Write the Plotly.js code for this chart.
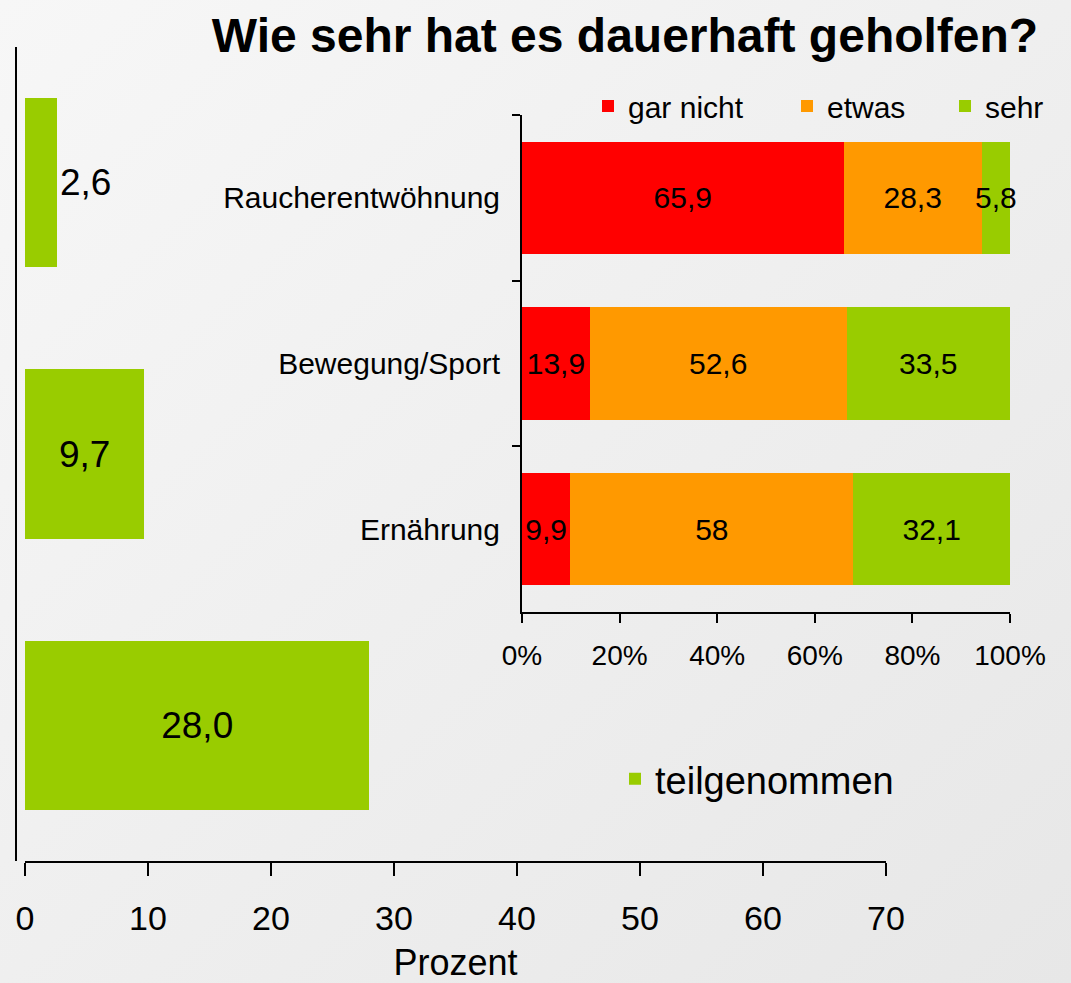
<!DOCTYPE html>
<html>
<head>
<meta charset="utf-8">
<script src="https://cdn.plot.ly/plotly-3.0.1.min.js"></script>
<style>html,body{margin:0;padding:0;background:#efefef;}#chart{width:1071px;height:983px;}</style>
</head>
<body>
<div id="chart"></div>
<script>
// ---- data ----
const categories = ['Raucherentwöhnung', 'Bewegung/Sport', 'Ernährung'];
const teilgenommen = [2.6, 9.7, 28.0];
const garNicht = [65.9, 13.9, 9.9];
const etwas = [28.3, 52.6, 58];
const sehr = [5.8, 33.5, 32.1];
const mainTicks = [0, 10, 20, 30, 40, 50, 60, 70];
const pctTicks = [0, 20, 40, 60, 80, 100];

const FONT = 'Liberation Sans, Arial, sans-serif';
const W = 1071, H = 983, B = 122, PH = H - B;
const px = x => x / W;              // paper x fraction
const py = y => 1 - y / PH;         // paper y fraction (plot area = 0..PH)
const de = v => String(v).replace('.', ',');

const RED = '#FF0000', ORANGE = '#FF9900', GREEN = '#99CC00';

const insetText = {family: FONT, size: 30, color: '#000'};

const traces = [
  {
    type: 'bar', orientation: 'h', name: 'teilgenommen',
    y: categories, x: teilgenommen,
    text: teilgenommen.map(v => v.toFixed(1).replace('.', ',')),
    textposition: ['outside', 'inside', 'inside'],
    insidetextanchor: 'middle', textangle: 0, constraintext: 'none',
    textfont: {family: FONT, size: 37, color: '#000'},
    marker: {color: GREEN}, width: 0.625,
    xaxis: 'x', yaxis: 'y', legend: 'legend2', hoverinfo: 'skip', cliponaxis: false
  },
  {
    type: 'bar', orientation: 'h', name: 'gar nicht',
    y: categories, x: garNicht, text: garNicht.map(de),
    textposition: 'inside', insidetextanchor: 'middle', textangle: 0, constraintext: 'none',
    textfont: insetText, cliponaxis: false,
    marker: {color: RED}, width: 0.68,
    xaxis: 'x2', yaxis: 'y2', legend: 'legend', hoverinfo: 'skip'
  },
  {
    type: 'bar', orientation: 'h', name: 'etwas',
    y: categories, x: etwas, text: etwas.map(de),
    textposition: 'inside', insidetextanchor: 'middle', textangle: 0, constraintext: 'none',
    textfont: insetText, cliponaxis: false,
    marker: {color: ORANGE}, width: 0.68,
    xaxis: 'x2', yaxis: 'y2', legend: 'legend3', hoverinfo: 'skip'
  },
  {
    type: 'bar', orientation: 'h', name: 'sehr',
    y: categories, x: sehr, text: sehr.map(de),
    textposition: 'inside', insidetextanchor: 'middle', textangle: 0, constraintext: 'none',
    textfont: insetText, cliponaxis: false,
    marker: {color: GREEN}, width: 0.68,
    xaxis: 'x2', yaxis: 'y2', legend: 'legend4', hoverinfo: 'skip'
  }
];

const bgSvg = "<svg xmlns='http://www.w3.org/2000/svg' width='1071' height='983'><defs><linearGradient id='g' x1='0' y1='0' x2='1' y2='1'><stop offset='0' stop-color='#f7f7f7'/><stop offset='1' stop-color='#e7e7e7'/></linearGradient></defs><rect width='1071' height='983' fill='url(#g)'/></svg>";

const legendBase = {
  orientation: 'h', xanchor: 'left', yanchor: 'middle',
  bgcolor: 'rgba(0,0,0,0)', borderwidth: 0, itemwidth: 30,
  itemclick: false, itemdoubleclick: false
};

const layout = {
  width: W, height: H,
  margin: {l: 0, r: 0, t: 0, b: B, pad: 0},
  paper_bgcolor: '#efefef', plot_bgcolor: 'rgba(0,0,0,0)',
  font: {family: FONT, color: '#000'},
  barmode: 'stack',
  showlegend: true,
  images: [{
    source: 'data:image/svg+xml;charset=utf-8,' + encodeURIComponent(bgSvg),
    xref: 'paper', yref: 'paper', x: 0, y: 1, sizex: 1, sizey: H / PH,
    xanchor: 'left', yanchor: 'top', sizing: 'stretch', layer: 'below'
  }],
  title: {
    text: 'Wie sehr hat es dauerhaft geholfen?',
    font: {family: FONT, size: 48, color: '#000', weight: 'bold'},
    x: px(625), xanchor: 'center', xref: 'container',
    y: 1 - 35 / H, yanchor: 'middle', yref: 'container'
  },
  xaxis: {
    domain: [px(25), px(886)], range: [0, 70], anchor: 'y',
    tickvals: mainTicks, ticktext: mainTicks.map(String),
    showline: true, linecolor: '#000', linewidth: 2,
    ticks: 'outside', ticklen: 13, tickwidth: 2, tickcolor: '#000',
    showgrid: false, zeroline: false, fixedrange: true,
    tickfont: {family: FONT, size: 34, color: '#000'},
    ticklabelstandoff: 13,
    title: {text: 'Prozent', font: {family: FONT, size: 36, color: '#000'}, standoff: 15},
    automargin: false
  },
  yaxis: {
    domain: [0, py(47)], anchor: 'free', position: px(16),
    type: 'category', categoryorder: 'array', categoryarray: categories,
    autorange: 'reversed',
    showline: true, linecolor: '#000', linewidth: 2,
    ticks: '', showticklabels: false, showgrid: false, zeroline: false,
    fixedrange: true, automargin: false
  },
  xaxis2: {
    domain: [px(522), px(1010)], range: [0, 100], anchor: 'y2',
    tickvals: pctTicks, ticktext: pctTicks.map(v => v + '%'),
    showline: true, linecolor: '#000', linewidth: 2,
    ticks: 'outside', ticklen: 9, tickwidth: 2, tickcolor: '#000',
    showgrid: false, zeroline: false, fixedrange: true,
    tickfont: {family: FONT, size: 28, color: '#000'},
    ticklabelstandoff: 8, automargin: false
  },
  yaxis2: {
    domain: [py(612), py(115)], anchor: 'x2',
    type: 'category', categoryorder: 'array', categoryarray: categories,
    autorange: 'reversed', tickson: 'boundaries',
    showline: true, linecolor: '#000', linewidth: 2,
    ticks: 'outside', ticklen: 8, tickwidth: 2, tickcolor: '#000',
    showgrid: false, zeroline: false, fixedrange: true,
    tickfont: {family: FONT, size: 30, color: '#000'},
    ticklabelstandoff: 14, automargin: false
  },
  legend:  Object.assign({}, legendBase, {x: px(588), y: py(106), font: {family: FONT, size: 30, color: '#000'}}),
  legend3: Object.assign({}, legendBase, {x: px(787), y: py(106), font: {family: FONT, size: 30, color: '#000'}}),
  legend4: Object.assign({}, legendBase, {x: px(945), y: py(106), font: {family: FONT, size: 30, color: '#000'}}),
  legend2: Object.assign({}, legendBase, {x: px(615), y: py(779), font: {family: FONT, size: 38, color: '#000'}})
};

Plotly.newPlot('chart', traces, layout, {displayModeBar: false, staticPlot: true});
</script>
</body>
</html>
